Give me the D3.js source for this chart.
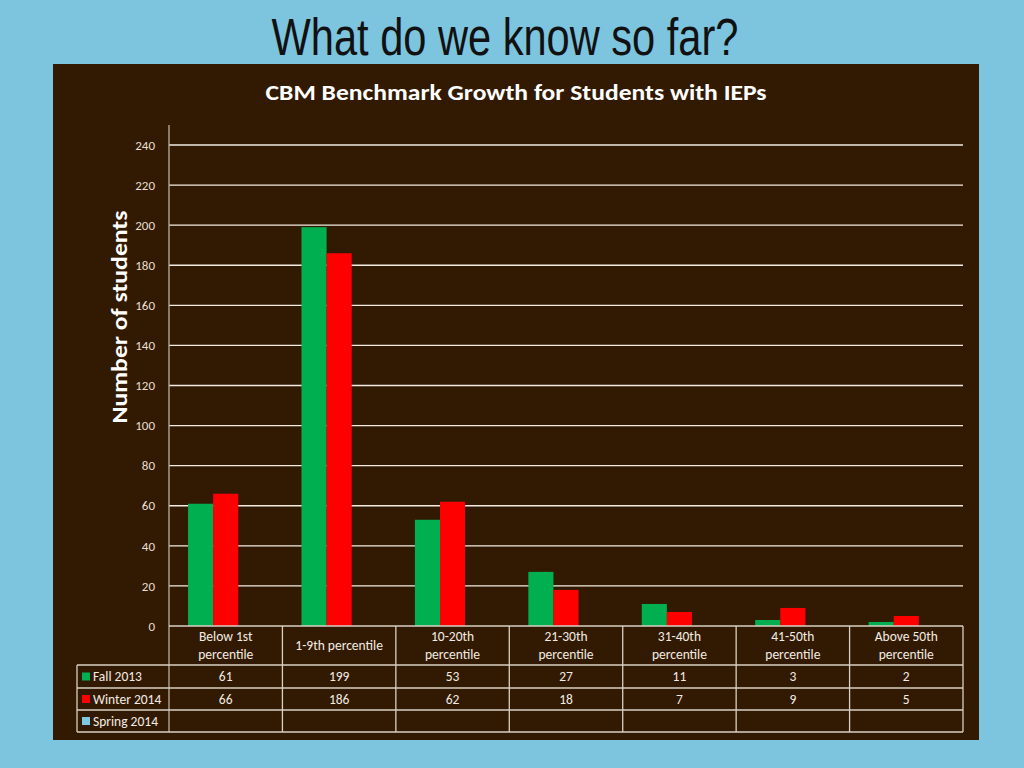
<!DOCTYPE html>
<html><head><meta charset="utf-8">
<script src="https://cdn.jsdelivr.net/npm/d3@7"></script>
<style>
html,body{margin:0;padding:0;background:#7DC4DF;}
svg{display:block;}
</style></head>
<body>
<svg id="c" width="1024" height="768"></svg>
<script>
const pageTitle = "What do we know so far?";
const chartTitle = "CBM Benchmark Growth for Students with IEPs";
const yLabel = "Number of students";
const categories = ["Below 1st percentile","1-9th percentile","10-20th percentile","21-30th percentile","31-40th percentile","41-50th percentile","Above 50th percentile"];
const seriesNames = ["Fall 2013","Winter 2014","Spring 2014"];
const fall2013 = [61,199,53,27,11,3,2];
const winter2014 = [66,186,62,18,7,9,5];
const spring2014 = [null,null,null,null,null,null,null];
const yTicks = [0,20,40,60,80,100,120,140,160,180,200,220,240];
const seriesColors = ["#00B050","#FF0000","#7EC8E3"];

const seriesValues = [fall2013, winter2014, spring2014];
const svg = d3.select("#c");
const font = "'Carlito','Lato','Open Sans',sans-serif";

svg.append("rect").attr("width",1024).attr("height",768).attr("fill","#7DC4DF");
const pt = svg.append("text").attr("x",0).attr("y",0).attr("text-anchor","middle")
  .attr("font-family","'Liberation Sans Narrow','Arial Narrow','Liberation Sans',sans-serif")
  .attr("font-size",52).attr("fill","#111").text(pageTitle);
const ptw = pt.node().getComputedTextLength();
pt.attr("transform",`translate(505,55) scale(${467/ptw},1)`);

// panel
svg.append("rect").attr("x",53).attr("y",64).attr("width",926).attr("height",676).attr("fill","#321A02");

svg.append("text").attr("x",516).attr("y",100).attr("text-anchor","middle")
  .attr("font-family",font).attr("font-weight","bold").attr("font-size",21.5).attr("fill","#fff")
  .attr("textLength",501).attr("lengthAdjust","spacingAndGlyphs").text(chartTitle);

const pL=169, pR=963, pT=145, pB=626;
const y = d3.scaleLinear().domain([0,240]).range([pB,pT]);
const x = d3.scaleBand().domain(categories).range([pL,pR]);
const bw = x.bandwidth();
const x1 = d3.scaleBand().domain(seriesNames).range([bw*0.168, bw*0.832]);

// grid
svg.append("g").selectAll("line").data(yTicks.filter(d=>d>0)).join("line")
  .attr("x1",pL).attr("x2",pR).attr("y1",d=>y(d)).attr("y2",d=>y(d))
  .attr("stroke","#f2ece4").attr("stroke-width",1.3);

// y axis
const yAxis = svg.append("g").attr("transform",`translate(${pL},0)`)
  .call(d3.axisLeft(y).tickValues(yTicks).tickSize(0).tickPadding(14));
yAxis.select(".domain").remove();
yAxis.selectAll("text").attr("font-family",font).attr("font-size",13).attr("fill","#e8dfd2");
svg.append("line").attr("x1",pL).attr("x2",pL).attr("y1",125).attr("y2",732).attr("stroke","#b8aea2").attr("stroke-width",1.3);

svg.append("text").attr("transform",`translate(127,317) rotate(-90)`).attr("text-anchor","middle")
  .attr("font-family",font).attr("font-weight","bold").attr("font-size",21.5).attr("fill","#fff")
  .attr("textLength",213).attr("lengthAdjust","spacingAndGlyphs").text(yLabel);

// bars
seriesNames.forEach((s,si)=>{
  svg.append("g").selectAll("rect").data(categories.map((c,i)=>({c,v:seriesValues[si][i]})).filter(d=>d.v!=null))
    .join("rect")
    .attr("x",d=>x(d.c)+x1(s)).attr("width",x1.bandwidth())
    .attr("y",d=>y(d.v)).attr("height",d=>y(0)-y(d.v)).attr("fill",seriesColors[si]);
});

// data table
const rowY = [626,665,688,710,732];
const tblLeft = 77;
const lineCol = "#d8d0c4";
const fs = 13.5;
const tg = svg.append("g");
tg.append("line").attr("x1",pL).attr("x2",pR).attr("y1",rowY[0]).attr("y2",rowY[0]).attr("stroke",lineCol).attr("stroke-width",1.3);
rowY.slice(1).forEach(yy=>tg.append("line").attr("x1",tblLeft).attr("x2",pR).attr("y1",yy).attr("y2",yy).attr("stroke",lineCol).attr("stroke-width",1.3));
tg.append("line").attr("x1",tblLeft).attr("x2",tblLeft).attr("y1",rowY[1]).attr("y2",rowY[4]).attr("stroke",lineCol).attr("stroke-width",1.3);
categories.forEach(c=>{
  const xx = x(c)+bw;
  tg.append("line").attr("x1",xx).attr("x2",xx).attr("y1",rowY[0]).attr("y2",rowY[4]).attr("stroke",lineCol).attr("stroke-width",1.3);
});
// headers
categories.forEach(c=>{
  const cx = x(c)+bw/2;
  let lines = [c];
  if (c.length>16){ const k=c.lastIndexOf(" "); lines=[c.slice(0,k),c.slice(k+1)]; }
  const t = tg.append("text").attr("text-anchor","middle").attr("font-family",font).attr("font-size",fs).attr("fill","#f2ece4");
  const mid = (rowY[0]+rowY[1])/2;
  lines.forEach((l,i)=>{
    t.append("tspan").attr("x",cx).attr("y",mid+4.5+(i-(lines.length-1)/2)*18).text(l);
  });
});
// rows
seriesNames.forEach((s,si)=>{
  const mid=(rowY[si+1]+rowY[si+2])/2;
  tg.append("rect").attr("x",82).attr("y",mid-4).attr("width",8).attr("height",8).attr("fill",seriesColors[si]);
  tg.append("text").attr("x",93).attr("y",mid+4.5).attr("font-family",font).attr("font-size",fs).attr("fill","#f2ece4").text(s);
  categories.forEach((c,i)=>{
    const v = seriesValues[si][i];
    if (v==null) return;
    tg.append("text").attr("x",x(c)+bw/2).attr("y",mid+4.5).attr("text-anchor","middle")
      .attr("font-family",font).attr("font-size",fs).attr("fill","#f2ece4").text(v);
  });
});
</script>
</body></html>
